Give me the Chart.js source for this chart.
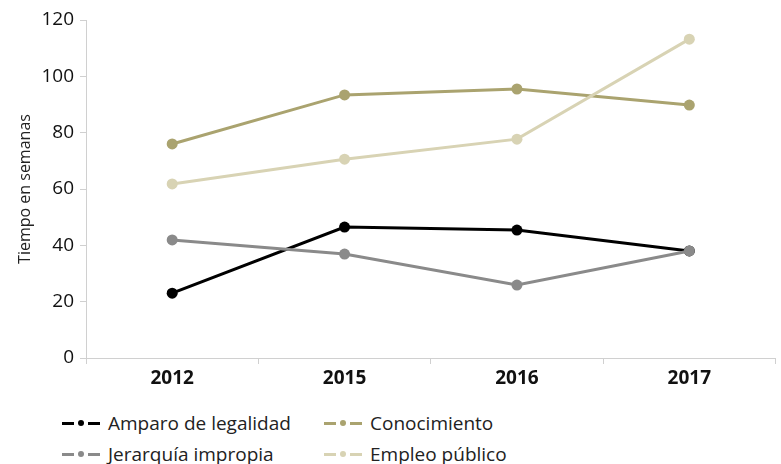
<!DOCTYPE html>
<html>
<head>
<meta charset="utf-8">
<script src="https://cdn.jsdelivr.net/npm/chart.js@4"></script>
<style>
  body { margin: 0; background: #fff; font-family: "Open Sans", sans-serif; }
  #wrap { position: relative; width: 781px; height: 400px; }
  #legend { position: absolute; left: 62px; top: 410px; display: grid; grid-template-columns: 262px 200px; row-gap: 5px; font-size: 19px; color: #222; }
  .item { display: flex; align-items: center; }
  .mk { position: relative; width: 38px; height: 3px; margin-right: 8px; }
  .mk .dot { position: absolute; left: 16px; top: -2px; width: 6px; height: 6px; border-radius: 50%; }
  .mk .gap { position: absolute; left: 12px; width: 14px; height: 3px; background: #fff; }
</style>
</head>
<body>
<div id="wrap"><canvas id="grafik" width="781" height="400"></canvas></div>
<div id="legend"></div>
<script>
const years = ["2012", "2015", "2016", "2017"];
const seriesNames = ["Amparo de legalidad", "Conocimiento", "Jerarquía impropia", "Empleo público"];
const amparo = [23, 46.5, 45.4, 38];
const conocimiento = [76, 93.4, 95.5, 89.8];
const jerarquia = [41.9, 36.9, 25.9, 38];
const empleo = [61.8, 70.6, 77.7, 113.2];
const yTicks = [0, 20, 40, 60, 80, 100, 120];
const colors = ["#000000", "#aaa36f", "#8a8a8a", "#d8d3b4"];

const values = [amparo, conocimiento, jerarquia, empleo];
// draw order: lighter ones behind
const order = [3, 1, 2, 0];

document.addEventListener("DOMContentLoaded", function () {
    const ctx = document.getElementById("grafik").getContext("2d");

    new Chart(ctx, {
        type: "line",
        data: {
            labels: years,
            datasets: order.map(function (i) {
                return {
                    label: seriesNames[i],
                    data: values[i],
                    borderColor: colors[i],
                    backgroundColor: colors[i],
                    borderWidth: 3,
                    pointRadius: 5.5,
                    pointHoverRadius: 5.5,
                    pointBorderWidth: 0,
                    tension: 0
                };
            })
        },
        options: {
            responsive: false,
            animation: false,
            layout: { padding: { top: 20, right: 3, left: 16, bottom: 0 } },
            plugins: { legend: { display: false }, tooltip: { enabled: false } },
            scales: {
                x: {
                    offset: true,
                    grid: { display: true, drawOnChartArea: false, offset: true, tickLength: 6, color: "#d0d0d0" },
                    border: { color: "#d0d0d0" },
                    ticks: { color: "#111", font: { family: "Open Sans", size: 19, weight: "bold" }, padding: 3 },
                    afterFit: function (s) { s.height = 42; }
                },
                y: {
                    min: 0,
                    max: 120,
                    afterBuildTicks: function (s) { s.ticks = yTicks.map(function (v) { return { value: v }; }); },
                    grid: { display: true, drawOnChartArea: false, tickLength: 6, color: "#d0d0d0" },
                    border: { color: "#d0d0d0" },
                    ticks: { color: "#111", font: { family: "Open Sans", size: 19 }, padding: 6 },
                    title: { display: true, text: "Tiempo en semanas", color: "#222", font: { family: "Open Sans", size: 16 }, padding: 0 },
                    afterFit: function (s) { s.width = 70; }
                }
            }
        }
    });

    const leg = document.getElementById("legend");
    [0, 1, 2, 3].forEach(function (i) {
        const d = document.createElement("div");
        d.className = "item";
        d.innerHTML = '<span class="mk" style="background:' + colors[i] + '"><span class="gap"></span><span class="dot" style="background:' + colors[i] + '"></span></span>' + seriesNames[i];
        leg.appendChild(d);
    });
});
</script>
</body>
</html>
